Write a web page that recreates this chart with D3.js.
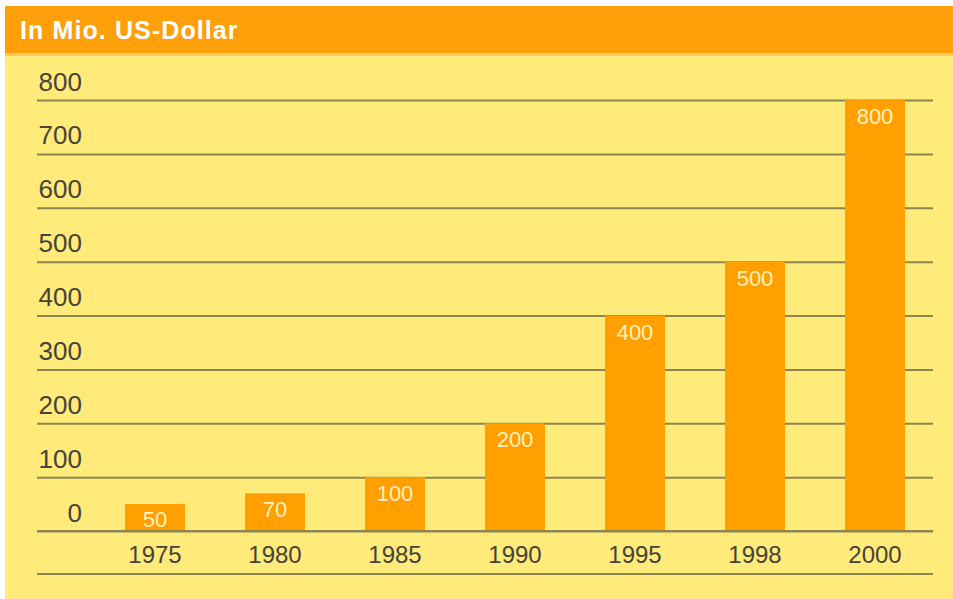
<!DOCTYPE html>
<html>
<head>
<meta charset="utf-8">
<script src="https://cdn.jsdelivr.net/npm/d3@7"></script>
<style>
body { margin: 0; background: #fff; }
svg { display: block; }
</style>
</head>
<body>
<svg id="chart"></svg>
<script>
// data
var years = ["1975", "1980", "1985", "1990", "1995", "1998", "2000"];
var values = [50, 70, 100, 200, 400, 500, 800];
var yTicks = [0, 100, 200, 300, 400, 500, 600, 700, 800];
var title = "In Mio. US-Dollar";

var width = 953;
var height = 599;

var svg = d3.select("#chart")
    .attr("width", width)
    .attr("height", height)
    .style("font-family", "'Liberation Sans', Arial, sans-serif");

// panel background
svg.append("rect")
    .attr("x", 5).attr("y", 6)
    .attr("width", width - 5).attr("height", height - 6)
    .attr("fill", "#ffea7a");

// header band
svg.append("rect")
    .attr("x", 5).attr("y", 6)
    .attr("width", width - 5).attr("height", 50)
    .attr("fill", "#ffc55e");
svg.append("rect")
    .attr("x", 5).attr("y", 6)
    .attr("width", width - 5).attr("height", 47)
    .attr("fill", "#ff9f0a");

svg.append("text")
    .attr("x", 20).attr("y", 39)
    .attr("fill", "#fff")
    .attr("font-size", 25)
    .attr("font-weight", "bold")
    .attr("letter-spacing", 1.1)
    .text(title);

// scales
var xScale = d3.scaleBand()
    .domain(years)
    .range([95, 935])
    .paddingInner(0.5)
    .paddingOuter(0.25);

var yScale = d3.scaleLinear()
    .domain([0, 800])
    .range([531, 100]);

var gridLeft = 37, gridRight = 933;
var ink = "#46443a";
var rule = "#8c8650";

// grid lines
var gy = svg.append("g")
    .attr("transform", "translate(" + gridRight + ",0)")
    .call(d3.axisRight(yScale).tickValues(yTicks).tickSize(-(gridRight - gridLeft)).tickFormat(""));
gy.select(".domain").remove();
gy.selectAll(".tick line")
    .attr("stroke", rule)
    .attr("stroke-width", 2);

// y labels sitting above the lines
var gyl = svg.append("g")
    .attr("transform", "translate(82,0)")
    .call(d3.axisLeft(yScale).tickValues(yTicks).tickSize(0).tickPadding(0));
gyl.select(".domain").remove();
gyl.selectAll(".tick text")
    .attr("x", 0)
    .attr("dy", "-10px")
    .attr("text-anchor", "end")
    .attr("fill", ink)
    .attr("font-size", 26)
    .attr("font-family", "'Liberation Sans', Arial, sans-serif");

// bars
svg.selectAll("rect.bar")
    .data(values)
    .enter()
    .append("rect")
    .attr("class", "bar")
    .attr("x", function(d, i) { return xScale(years[i]); })
    .attr("y", function(d) { return yScale(d); })
    .attr("width", xScale.bandwidth())
    .attr("height", function(d) { return yScale(0) - yScale(d); })
    .attr("fill", "#ffa000");

// baseline over the bars
svg.append("line")
    .attr("x1", gridLeft).attr("x2", gridRight)
    .attr("y1", yScale(0)).attr("y2", yScale(0))
    .attr("stroke", rule)
    .attr("stroke-width", 2);

// value labels inside bars
svg.selectAll("text.val")
    .data(values)
    .enter()
    .append("text")
    .attr("class", "val")
    .attr("x", function(d, i) { return xScale(years[i]) + xScale.bandwidth() / 2; })
    .attr("y", function(d) { return Math.min(yScale(d) + 24, yScale(0) - 4); })
    .attr("text-anchor", "middle")
    .attr("fill", "#fff0c0")
    .attr("font-size", 22)
    .text(function(d) { return d; });

// year axis
var gx = svg.append("g")
    .attr("transform", "translate(0," + yScale(0) + ")")
    .call(d3.axisBottom(xScale).tickSize(0).tickPadding(0));
gx.select(".domain").remove();
gx.selectAll(".tick text")
    .attr("y", 32)
    .attr("dy", 0)
    .attr("fill", ink)
    .attr("font-size", 24)
    .attr("font-family", "'Liberation Sans', Arial, sans-serif");

// bottom rule
svg.append("line")
    .attr("x1", gridLeft).attr("x2", gridRight)
    .attr("y1", 574).attr("y2", 574)
    .attr("stroke", rule)
    .attr("stroke-width", 2);
</script>
</body>
</html>
